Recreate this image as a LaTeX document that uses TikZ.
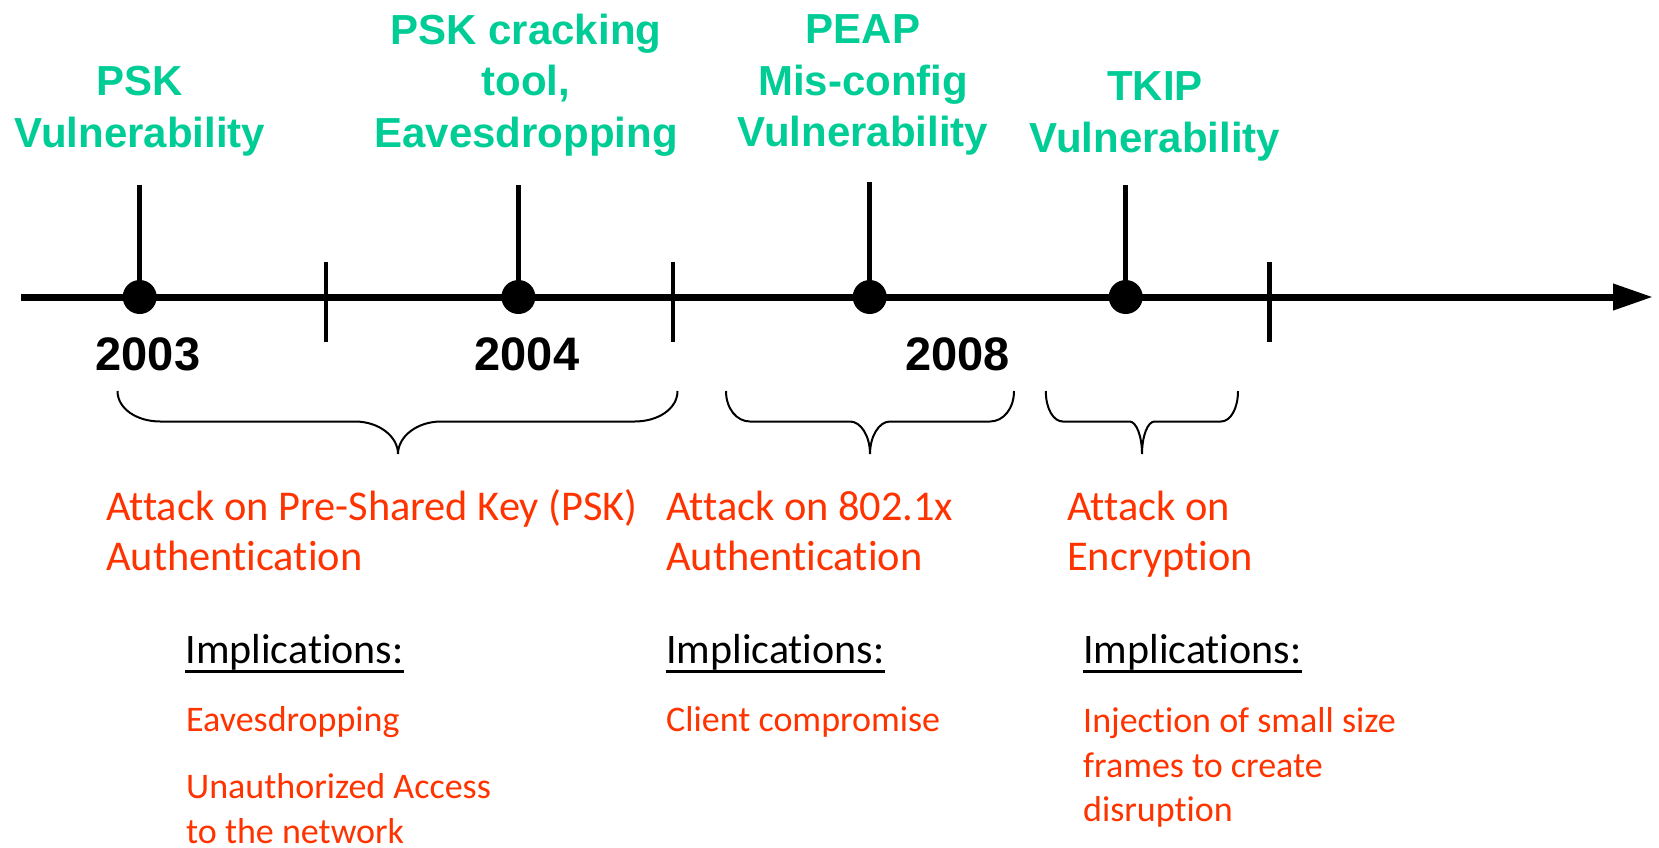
\documentclass[tikz,border=0pt]{standalone}
\usepackage{fontspec}
\setmainfont{Carlito}[Ligatures=NoCommon]
\newfontfamily\arialfont{Liberation Sans}
\usetikzlibrary{arrows.meta}
\definecolor{titlegreen}{RGB}{0,204,150}
\definecolor{attackred}{RGB}{255,51,0}
\tikzset{
  vtitle/.style={font=\arialfont\bfseries\fontsize{42}{51.5}\selectfont, text=titlegreen, align=center, anchor=base, inner sep=0pt},
  year/.style={font=\arialfont\bfseries\fontsize{47}{50}\selectfont, anchor=base, inner sep=0pt},
  attack/.style={font=\fontsize{42.4}{50.7}\selectfont, text=attackred, align=left, anchor=base west, inner sep=0pt},
  implhead/.style={font=\fontsize{42}{50}\selectfont, anchor=base west, inner sep=0pt},
  impl/.style={font=\fontsize{36}{44.5}\selectfont, text=attackred, align=left, anchor=base west, inner sep=0pt},
  event/.style={circle, fill=black, minimum size=34pt, inner sep=0pt},
  stem/.style={line width=5pt},
  tickmark/.style={line width=4.5pt},
  timeline/.style={line width=7pt, -{Triangle[length=40pt,width=25pt]}},
  bracestyle/.style={line width=2pt},
  uline/.style={line width=2.5pt},
}
% brace: #1 left x, #2 right x, #3 tip x, #4 end radius, #5 middle radius
\newcommand{\mybrace}[5]{%
  \draw[bracestyle] (#1,391) .. controls (#1,408.7) and ({#1+0.448*#4},421.5) .. ({#1+#4},421.5)
    -- ({#3-#5},421.5) .. controls ({#3-0.448*#5},421.5) and (#3,436.3) .. (#3,454)
    .. controls (#3,436.3) and ({#3+0.448*#5},421.5) .. ({#3+#5},421.5)
    -- ({#2-#4},421.5) .. controls ({#2-0.448*#4},421.5) and (#2,408.7) .. (#2,391);}
\begin{document}
\begin{tikzpicture}[x=1pt,y=-1pt]
\useasboundingbox (0,0) rectangle (1659,847);
% timeline
\coordinate (tl0) at (21,297);
\coordinate (tl1) at (1653,297);
\draw[timeline] (tl0) -- (tl1);
% ticks
\coordinate (t1a) at (326,262);   \coordinate (t1b) at (326,341.5);
\coordinate (t2a) at (672.8,262); \coordinate (t2b) at (672.8,341.5);
\coordinate (t3a) at (1269.6,262);\coordinate (t3b) at (1269.6,341.5);
\draw[tickmark] (t1a) -- (t1b);
\draw[tickmark] (t2a) -- (t2b);
\draw[tickmark] (t3a) -- (t3b);
% events
\node[event] (d1) at (139.7,297) {};
\node[event] (d2) at (518.4,297) {};
\node[event] (d3) at (869.7,297) {};
\node[event] (d4) at (1125.7,297) {};
\coordinate (s1) at (139.7,185);
\coordinate (s2) at (518.4,185);
\coordinate (s3) at (869.7,182);
\coordinate (s4) at (1125.7,185);
\draw[stem] (s1) -- (d1.center);
\draw[stem] (s2) -- (d2.center);
\draw[stem] (s3) -- (d3.center);
\draw[stem] (s4) -- (d4.center);
% titles (base anchor = baseline of last line)
\node[vtitle] (g1) at (140,147) {PSK\\Vulnerability};
\node[vtitle] (g2) at (526,147) {PSK cracking\\tool,\\Eavesdropping};
\node[vtitle] (g3) at (863,146.7) {PEAP\\Mis-config\\Vulnerability};
\node[vtitle] (g4) at (1155,152.3) {TKIP\\Vulnerability};
% years
\node[year] (y1) at (148,370) {2003};
\node[year] (y2) at (527,370) {2004};
\node[year] (y3) at (957.5,370) {2008};
% braces
\mybrace{117.5}{677.5}{398}{43}{43}
\mybrace{726}{1014}{870}{24}{20}
\mybrace{1045.8}{1238}{1142}{17}{12.5}
% attacks
\node[attack] (a1) at (106,570.7) {Attack on Pre-Shared Key (PSK)\\Authentication};
\node[attack] (a2) at (666,570.7) {Attack on 802.1x\\Authentication};
\node[attack] (a3) at (1067,570.7) {Attack on\\Encryption};
% implications
\node[implhead] (i1) at (185.3,663.3) {Implications:};
\node[implhead] (i2) at (666,663.3) {Implications:};
\node[implhead] (i3) at (1083,663.3) {Implications:};
\draw[uline] ([yshift=-8pt]i1.base west) -- ([yshift=-8pt]i1.base east);
\draw[uline] ([yshift=-8pt]i2.base west) -- ([yshift=-8pt]i2.base east);
\draw[uline] ([yshift=-8pt]i3.base west) -- ([yshift=-8pt]i3.base east);
\node[impl] (e1) at (186,731.7) {Eavesdropping};
\node[impl] (e2) at (186,843.3) {Unauthorized Access\\to the network};
\node[impl] (c1) at (666,731.7) {Client compromise};
\node[impl] (j1) at (1083,821.7) {Injection of small size\\frames to create\\disruption};
\end{tikzpicture}
\end{document}
